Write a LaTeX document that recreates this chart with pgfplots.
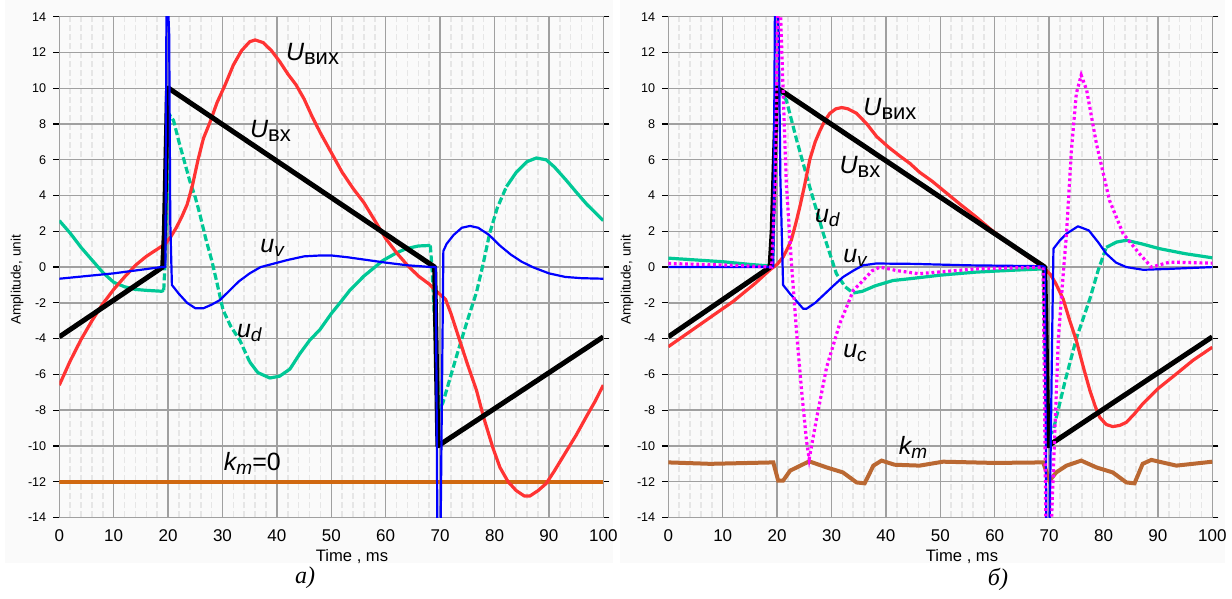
\documentclass[border=0pt]{standalone}
\usepackage{fontspec}
\setmainfont{Liberation Sans}
\newfontfamily\capfont{Liberation Serif}
\usepackage{pgfplots}
\pgfplotsset{compat=1.18}

\definecolor{cRed}{RGB}{255,51,51}
\definecolor{cBlue}{RGB}{0,0,255}
\definecolor{cTeal}{RGB}{0,200,150}
\definecolor{cBrownA}{RGB}{208,104,16}
\definecolor{cBrownB}{RGB}{186,104,50}
\definecolor{cMag}{RGB}{255,0,255}
\definecolor{cGrid}{RGB}{160,160,160}
\definecolor{cMinor}{RGB}{230,230,230}

% labels on the curves
\newcommand{\Ul}[1]{{\fontsize{12.5}{14}\selectfont\itshape U}\raisebox{-2pt}{\fontsize{11}{12}\selectfont #1}}
\newcommand{\ul}[2]{{\fontsize{12.5}{14}\selectfont\itshape #1}\raisebox{-2pt}{\fontsize{9.5}{11}\selectfont\itshape #2}}

\pgfplotsset{
  panel/.style={
    scale only axis, width=272pt, height=250.4pt,
    anchor=south west,
    xmin=0, xmax=100, ymin=-14, ymax=14,
    xtick={0,10,...,100}, ytick={-14,-12,...,14},
    minor x tick num=4,
    grid=both,
    major grid style={cGrid, line width=0.7pt},
    minor grid style={cMinor, line width=0.8pt, dash pattern=on 3pt off 1.5pt},
    axis line style={cGrid, line width=0.7pt},
    tick align=outside, major tick length=3pt,
    xtick style={draw=none}, minor tick style={draw=none},
    ytick style={black, line width=0.6pt},
    x tick label style={font=\fontsize{8.5}{10}\selectfont, yshift=0.5pt},
    y tick label style={font=\fontsize{6.3}{7}\selectfont},
    /pgf/number format/assume math mode=true,
  },
  cblack/.style={black, line width=2.5pt, line join=round},
  cred/.style={cRed, line width=1.6pt, line join=round},
  cblue/.style={cBlue, line width=1.1pt, line join=round},
  cteal/.style={cTeal, line width=1.6pt, line join=round},
  ctealdash/.style={cTeal, line width=1.6pt, dash pattern=on 3.5pt off 1.5pt},
  cmag/.style={cMag, line width=1.6pt, dash pattern=on 1.4pt off 1.4pt},
}

\begin{document}
\begin{tikzpicture}
\useasboundingbox (0,0) rectangle (616pt,299.5pt);
\fill[black!2] (2.5pt,18pt) rectangle (306.5pt,299.5pt);
\fill[black!2] (310pt,18pt) rectangle (612.5pt,299.5pt);

% ---------------- panel a ----------------
\begin{axis}[panel, at={(29.65pt,40.75pt)}]
\addplot[cBrownA, line width=2pt] coordinates {(0,-12) (100,-12)};
% u_d
\addplot[cteal] coordinates {(0,2.6) (2,1.9) (4,1.1) (6,0.4) (8,-0.3) (10,-0.85) (12,-1.1) (14,-1.25) (16,-1.3) (18.8,-1.35) (19.2,-1.3)};
\addplot[ctealdash] coordinates {(19.2,-1.3) (19.4,0) (20.3,8.5) (21,8.2) (22,7.0) (23,5.9) (24,4.8) (25,3.9) (25.8,3.0) (27,1.5) (28,0.4) (29,-0.9) (30.1,-2.4) (31.5,-3.3) (33.2,-4.1) (35,-5.3)};
\addplot[cteal] coordinates {(35,-5.3) (36.5,-5.9) (38.7,-6.2) (40.5,-6.1) (42.4,-5.7) (44.2,-4.85) (46,-4.1) (47.9,-3.5) (50,-2.6) (52.2,-1.77) (53.4,-1.3) (56,-0.5) (59.5,0.37) (62,0.8) (63.8,1.03) (66,1.18) (68.2,1.21)};
\addplot[ctealdash] coordinates {(68.2,1.21) (68.5,0) (69.8,-8.0) (70.5,-7.6) (73,-5.0) (75,-3.0) (76.7,-1.4) (78,0.3) (79.1,1.87) (80.5,3.3) (82.2,4.5)};
\addplot[cteal] coordinates {(82.2,4.5) (84,5.3) (86,5.9) (87.7,6.1) (89.5,6.0) (91,5.6) (93.2,4.85) (95,4.2) (97,3.5) (100,2.6)};
% U_vykh
\addplot[cred] coordinates {(0,-6.6) (2,-5.25) (4,-4.05) (6,-3.0) (8,-2.05) (10,-1.25) (12,-0.55) (14,0.1) (16,0.6) (18,1.0) (19.5,1.3) (20.5,1.7) (21.5,2.2) (22.5,2.8) (23.5,3.5) (24.5,4.6) (25.5,6.0) (26.5,7.2) (27.7,8.1) (29,9.2) (30.5,10.2) (32,11.3) (33.5,12.1) (35,12.6) (36,12.7) (37.5,12.55) (39,12.1) (40.5,11.5) (42,10.8) (43.5,10.2) (45,9.4) (46.5,8.4) (48,7.5) (50,6.4) (52,5.3) (54,4.4) (56,3.6) (58,2.6) (60,1.6) (62,0.8) (64,0.1) (66,-0.5) (68,-0.95) (69.5,-1.4) (71,-1.8) (72,-2.6) (73.6,-4.1) (75,-5.4) (76.7,-6.9) (78,-8.4) (79.7,-10.1) (81,-11.2) (82.5,-12.0) (84,-12.5) (85.5,-12.8) (86.5,-12.8) (88,-12.5) (89.5,-12.1) (91,-11.4) (93,-10.4) (95,-9.4) (97,-8.3) (98.5,-7.5) (100,-6.6)};
% U_vkh
\addplot[cblack] coordinates {(0,-3.9) (19,0) (19.3,1.8) (19.9,10) (20.1,10) (69.0,0) (69.6,-10) (100,-3.9)};
% u_v
\addplot[cblue] coordinates {(0,-0.65) (5,-0.5) (10,-0.35) (15,-0.15) (18.7,0) (19.5,0) (19.7,14.5) (20.0,14.5) (20.2,13) (20.4,2.5) (20.7,-1.0) (22,-1.5) (23.5,-2.0) (25,-2.3) (26.5,-2.3) (28,-2.1) (29.5,-1.85) (31,-1.4) (33,-0.8) (35,-0.35) (37,0.0) (39.5,0.2) (42,0.4) (45,0.6) (48,0.65) (50,0.65) (53,0.55) (56.5,0.4) (60,0.25) (64,0.1) (68.5,0) (69.2,0) (69.5,-14.5) (70.1,-14.5) (70.6,0.9) (71.2,1.3) (72.5,1.8) (74,2.2) (75.5,2.3) (77,2.2) (79,1.8) (81,1.2) (83,0.7) (85,0.3) (87,0.0) (90,-0.35) (93,-0.55) (96,-0.62) (100,-0.65)};
\node[anchor=base west, inner sep=0] at (axis cs:41.6,11.57) {\Ul{вих}};
\node[anchor=base west, inner sep=0] at (axis cs:35.0,7.26) {\Ul{вх}};
\node[anchor=base west, inner sep=0] at (axis cs:36.9,0.82) {\ul{u}{v}};
\node[anchor=base west, inner sep=0] at (axis cs:32.6,-3.92) {\ul{u}{d}};
\node[anchor=base west, inner sep=0] at (axis cs:30.2,-11.38) {\ul{k}{m}{\fontsize{12.5}{14}\selectfont =0}};
\end{axis}

% ---------------- panel b ----------------
\begin{axis}[panel, at={(334.15pt,40.75pt)}]
\addplot[cBrownB, line width=2pt] coordinates {(0,-10.92) (7.7,-11.0) (19.3,-10.92) (20.2,-11.94) (21.1,-11.94) (22.4,-11.38) (25.9,-10.86) (29.1,-11.2) (32.1,-11.48) (34.6,-12.04) (36.1,-12.09) (37.7,-11.1) (39.2,-10.82) (41.6,-11.05) (46.2,-11.1) (50.5,-10.88) (60,-10.95) (68.9,-10.92) (70.1,-11.94) (71.3,-11.48) (73.2,-11.1) (75.9,-10.82) (78.7,-11.2) (81.7,-11.48) (84.2,-12.04) (85.7,-12.09) (87.2,-11.0) (88.8,-10.78) (93.4,-11.1) (100,-10.88)};
% u_d
\addplot[cteal] coordinates {(0,0.5) (5,0.4) (10,0.3) (15,0.15) (19.2,0.05)};
\addplot[ctealdash] coordinates {(19.2,0.05) (19.9,10) (20.5,9.8) (21.7,9.33) (23.6,7.1) (26,4.48) (28.5,1.87) (30.9,-0.37) (32.5,-1.1) (34,-1.45)};
\addplot[cteal] coordinates {(34,-1.45) (35.7,-1.35) (38,-1.05) (41.3,-0.75) (44.4,-0.65) (50,-0.45) (56.6,-0.28) (63,-0.18) (68.9,-0.1)};
\addplot[ctealdash] coordinates {(68.9,-0.1) (69.6,-9.5) (70.7,-9.2) (73,-6.3) (75,-4.0) (77.5,-1.77) (79,-0.2) (80.5,1.1)};
\addplot[cteal] coordinates {(80.5,1.1) (82.4,1.4) (84.2,1.5) (87,1.3) (90.3,1.03) (95,0.75) (100,0.52)};
% U_vykh
\addplot[cred] coordinates {(0,-4.45) (4,-3.6) (8,-2.75) (12,-1.9) (16,-0.9) (18.7,-0.15) (20,0.15) (21.1,0.56) (22,1.1) (22.6,1.5) (23.4,2.4) (24.2,3.4) (25,4.5) (26,6.0) (27,7.0) (27.9,7.65) (28.8,8.2) (29.7,8.6) (30.8,8.85) (31.9,8.92) (33,8.85) (34.6,8.6) (36.5,8.0) (38.3,7.3) (40.5,6.7) (42.6,6.2) (44.4,5.8) (46.2,5.3) (48.5,4.8) (50.5,4.3) (53.5,3.55) (56.6,2.8) (59.5,2.05) (62.8,1.3) (66,0.6) (68.9,0.0) (70.2,-0.4) (71.2,-0.9) (72.6,-1.8) (73.8,-3.0) (75,-4.1) (76.3,-5.6) (77.5,-6.9) (78.5,-7.8) (79.3,-8.4) (80.5,-8.8) (81.7,-8.92) (83,-8.85) (84.2,-8.68) (85.7,-8.2) (87.2,-7.65) (90,-6.8) (93.4,-5.97) (96.5,-5.2) (100,-4.48)};
% U_vkh
\addplot[cblack] coordinates {(0,-3.9) (18.7,0) (19.1,2) (19.9,10) (20.1,10) (69.2,0) (69.8,-10) (100,-3.9)};
% u_v
\addplot[cblue] coordinates {(0,0) (19.3,0) (19.6,14.5) (20.1,14.5) (20.3,13) (20.6,5) (21.1,-1.0) (22.4,-1.5) (23,-1.7) (24.8,-2.33) (25.4,-2.33) (27,-2.0) (29.1,-1.4) (30.5,-1.0) (32.1,-0.56) (34,-0.2) (35.8,0.1) (38.2,0.2) (45,0.18) (55,0.1) (68.8,0.05) (69.2,0) (69.5,-14.5) (70.1,-14.5) (70.6,-3) (70.8,1.03) (72,1.5) (73.2,1.87) (75.3,2.28) (77.3,2.05) (79,1.4) (80.5,0.75) (82.3,0.25) (84.2,0) (87.3,-0.15) (92,-0.1) (100,0)};
% u_c
\addplot[cmag] coordinates {(0,0.2) (10,0.12) (19,0.0) (19.7,5) (20.1,14.5) (20.6,14.5) (21.2,9) (21.7,4.67) (22.6,0.37) (23.6,-3.73) (24.5,-6.9) (25.4,-9.7) (25.9,-10.73) (27.3,-8.4) (29.1,-5.6) (31.5,-3.17) (33.4,-1.77) (34,-1.3) (35.8,-0.75) (37.5,-0.2) (38.9,0.0) (40.5,-0.1) (41.9,-0.19) (46,-0.37) (56.6,-0.1) (68.9,0.0) (69.4,-14.5) (70.4,-14.5) (71.7,-4) (72.6,-0.37) (73.2,1.87) (74.1,6.53) (75,9.7) (75.9,10.73) (76.9,9.9) (78.7,6.9) (81.1,3.73) (83.6,1.87) (86.6,0.75) (88.8,0.0) (92.2,0.28) (100,0.22)};
\node[anchor=base west, inner sep=0] at (axis cs:35.8,8.49) {\Ul{вих}};
\node[anchor=base west, inner sep=0] at (axis cs:31.4,5.23) {\Ul{вх}};
\node[anchor=base west, inner sep=0] at (axis cs:26.9,2.52) {\ul{u}{d}};
\node[anchor=base west, inner sep=0] at (axis cs:32.1,0.28) {\ul{u}{v}};
\node[anchor=base west, inner sep=0] at (axis cs:32.1,-5.04) {\ul{u}{c}};
\node[anchor=base west, inner sep=0] at (axis cs:42.3,-10.45) {\ul{k}{m}};
\end{axis}

% axis titles and captions
\node[rotate=90, font=\fontsize{6.8}{8}\selectfont] at (8.5pt,159.5pt) {Amplitude, unit};
\node[rotate=90, font=\fontsize{6.8}{8}\selectfont] at (313.5pt,159.5pt) {Amplitude, unit};
\node[font=\fontsize{8.3}{10}\selectfont] at (176pt,21pt) {Time , ms};
\node[font=\fontsize{8.3}{10}\selectfont] at (481pt,21pt) {Time , ms};
\node[font=\capfont\itshape\fontsize{12}{14}\selectfont] at (152.5pt,10.5pt) {а)};
\node[font=\capfont\itshape\fontsize{12}{14}\selectfont] at (499pt,10pt) {б)};
\end{tikzpicture}
\end{document}
